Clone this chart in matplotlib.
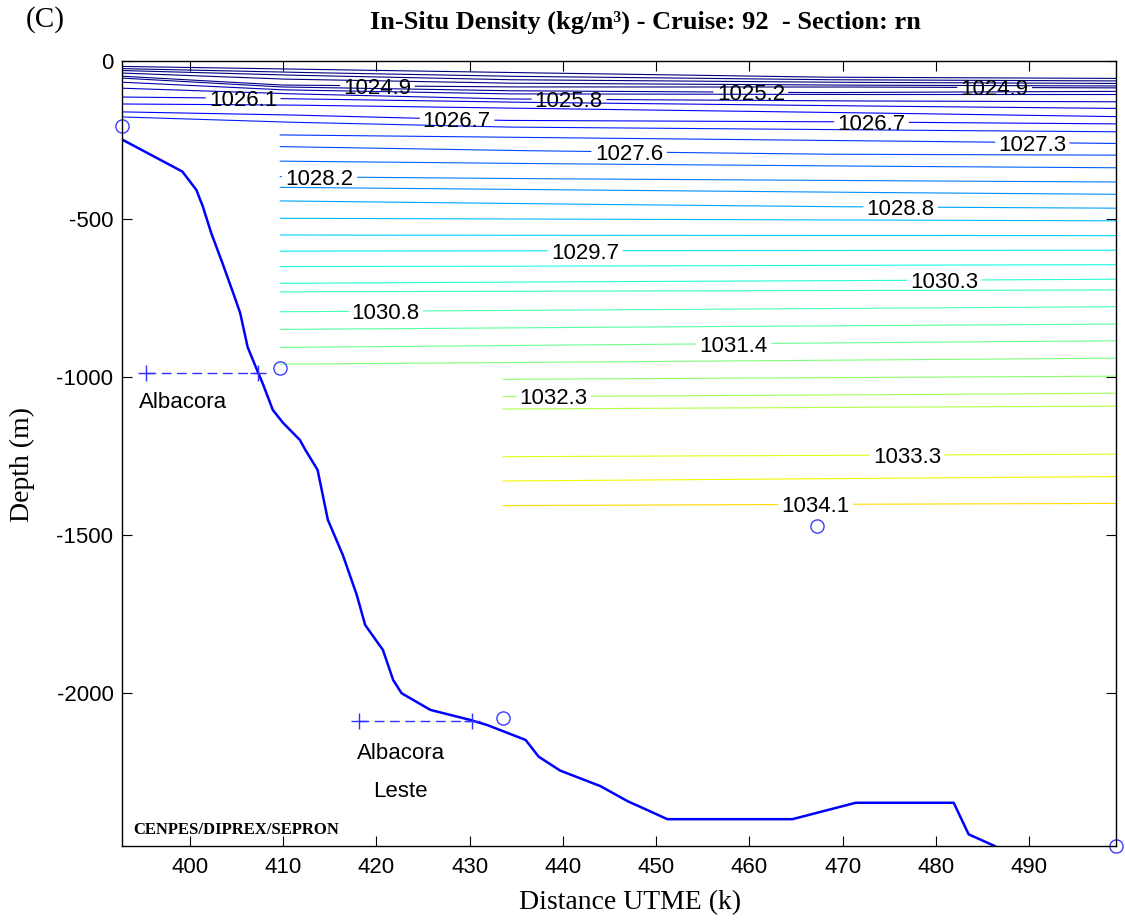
import numpy as np
import matplotlib.pyplot as plt
from matplotlib.colors import Normalize

plt.rcParams['axes.unicode_minus'] = False
plt.rcParams['font.family'] = 'Liberation Sans'

# CTD stations along the section: position (km) and deepest sample (m)
station_x = [392.7, 409.7, 433.6, 467.2, 499.3]
station_z = [-206, -972, -2080, -1472, -2486]

# isopycnal levels (kg/m3) and their depth (m) at each station, nan = no data
levels = [1023.7, 1024.0, 1024.3, 1024.6, 1024.9, 1025.2, 1025.5, 1025.8,
          1026.1, 1026.4, 1026.7, 1027.0, 1027.3, 1027.6, 1027.9, 1028.2,
          1028.5, 1028.8, 1029.1, 1029.4, 1029.7, 1030.0, 1030.3, 1030.55,
          1030.8, 1031.1, 1031.4, 1031.7, 1032.0, 1032.3, 1032.6, 1033.3,
          1033.7, 1034.1]
nan = np.nan
iso_depth = [
    [-17, -25, -36, -51, -55],
    [-24, -35, -48, -59, -63],
    [-30, -44, -59, -67, -71],
    [-38, -57, -70, -76, -79],
    [-48, -76, -82, -82, -85],
    [-54, -82, -94, -100, -96],
    [-67, -91, -104, -106, -106],
    [-86, -103, -120, -126, -129],
    [-114, -119, -130, -141, -150],
    [-136, -139, -149, -162, -176],
    [-161, -170, -188, -192, -199],
    [-177, -193, -209, -217, -224],
    [nan, -234, -241, -251, -261],
    [nan, -271, -283, -295, -298],
    [nan, -317, -324, -332, -338],
    [nan, -366, -372, -378, -383],
    [nan, -400, -406, -415, -422],
    [nan, -443, -451, -461, -466],
    [nan, -498, -500, -503, -506],
    [nan, -551, -552, -552, -553],
    [nan, -602, -601, -600, -599],
    [nan, -651, -650, -647, -645],
    [nan, -704, -700, -696, -691],
    [nan, -731, -729, -727, -725],
    [nan, -794, -790, -784, -778],
    [nan, -850, -845, -839, -833],
    [nan, -907, -901, -893, -886],
    [nan, -960, -955, -948, -941],
    [nan, nan, -1008, -1003, -998],
    [nan, nan, -1063, -1058, -1052],
    [nan, nan, -1102, -1097, -1093],
    [nan, nan, -1253, -1249, -1245],
    [nan, nan, -1330, -1323, -1316],
    [nan, nan, -1408, -1404, -1401],
]

# inline contour labels: level and position along the section
label_level = [1024.9, 1024.9, 1025.2, 1025.8, 1026.1, 1026.7, 1026.7, 1027.3,
               1027.6, 1028.2, 1028.8, 1029.7, 1030.3, 1030.8, 1031.4, 1032.3,
               1033.3, 1034.1]
label_x = [420.1, 486.3, 460.2, 440.6, 405.7, 428.6, 473.1, 490.3,
           447.1, 413.9, 476.2, 442.4, 480.9, 421.0, 458.3, 439.0,
           476.9, 467.1]

# sea floor along the section
bottom_x = [392.7, 399.2, 400.7, 401.4, 402.3, 403.5, 404.8, 405.4, 406.2, 407.2,
            407.8, 408.9, 410.0, 411.8, 412.4, 413.7, 414.8, 416.4, 417.9, 418.8,
            420.7, 421.8, 422.7, 425.8, 430.1, 431.9, 436.0, 437.4, 439.7, 444.0,
            447.0, 448.3, 451.2, 464.6, 471.4, 481.9, 483.5, 486.3, 488.0]
bottom_z = [-248, -350, -408, -461, -545, -640, -747, -798, -906, -978,
            -1020, -1105, -1146, -1200, -1232, -1295, -1453, -1564, -1691, -1786,
            -1865, -1960, -2002, -2055, -2087, -2103, -2150, -2203, -2247, -2296,
            -2345, -2362, -2401, -2401, -2349, -2349, -2449, -2486, -2520]

# oil fields projected on the section
field_names = ['Albacora', 'Albacora\n\nLeste']
field_x0 = [395.3, 418.1]
field_x1 = [407.3, 430.3]
field_z = [-988, -2090]
field_label_x = [399.3, 422.6]
field_label_z = [-1080, -2253]

fig = plt.figure(figsize=(11.25, 9.22), dpi=100)
ax = fig.add_axes([0.1082, 0.0824, 0.8838, 0.8514])

cmap = plt.cm.jet
norm = Normalize(1024.9, 1038.5)
sx = np.array(station_x)
half_gap = 4.0

for lev, zs in zip(levels, iso_depth):
    zs = np.array(zs, float)
    ok = ~np.isnan(zs)
    xs = np.linspace(sx[ok][0], sx[ok][-1], 800)
    zl = np.interp(xs, sx[ok], zs[ok])
    for l, lx in zip(label_level, label_x):
        if l == lev:
            zl[np.abs(xs - lx) < half_gap] = np.nan
    ax.plot(xs, zl, color=cmap(norm(lev)), lw=0.8)

for l, lx in zip(label_level, label_x):
    k = levels.index(l)
    zs = np.array(iso_depth[k], float)
    ok = ~np.isnan(zs)
    lz = np.interp(lx, sx[ok], zs[ok])
    ax.text(lx, lz, f'{l:.1f}', fontsize=16, ha='center', va='center_baseline')

ax.plot(bottom_x, bottom_z, color='#0000ff', lw=1.8)
ax.plot(station_x, station_z, 'o', mfc='none', mec='#3d3dff', ms=9.5,
        mew=1.0, clip_on=False)

for name, x0, x1, z, tx, tz in zip(field_names, field_x0, field_x1, field_z,
                                   field_label_x, field_label_z):
    ax.plot([x0, x1], [z, z], '--+', color='#3030ff', lw=1.0, ms=11,
            mew=1.0, dashes=(7, 4))
    ax.text(tx, tz, name, fontsize=16, ha='center', va='center',
            linespacing=0.9)

ax.text(393.9, -2435, 'CENPES/DIPREX/SEPRON', family='Liberation Serif',
        fontweight='bold', fontsize=12, va='center')

ax.set_xlim(station_x[0], station_x[-1])
ax.set_ylim(station_z[-1], 0)
ax.set_xticks(range(400, 491, 10))
ax.set_yticks([0, -500, -1000, -1500, -2000])
ax.tick_params(direction='in', length=7, width=0.8, top=True, right=True,
               labelsize=16)
ax.tick_params(axis='x', pad=8)
ax.tick_params(axis='y', pad=6)
for s in ax.spines.values():
    s.set_linewidth(1.0)

fig.text(645 / 1125, 1 - 22 / 922,
         'In-Situ Density (kg/m\u00b3) - Cruise: 92  - Section: rn',
         family='Liberation Serif', fontweight='bold', fontsize=19,
         ha='center', va='center')
fig.text(45 / 1125, 1 - 20 / 922, '(C)', family='Liberation Serif',
         fontsize=21, ha='center', va='center')
fig.text(22 / 1125, 1 - 464 / 922, 'Depth (m)', family='Liberation Serif',
         fontsize=20, rotation=90, ha='center', va='center')
fig.text(630 / 1125, 1 - 903 / 922, 'Distance UTME (k)',
         family='Liberation Serif', fontsize=20, ha='center', va='center')

fig.savefig('out.png', dpi=100)
